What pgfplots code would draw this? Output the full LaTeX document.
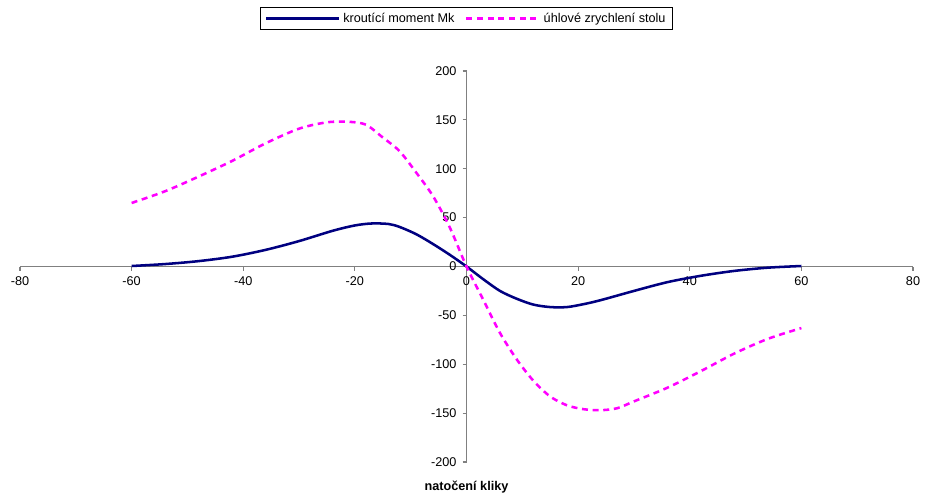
\documentclass[border=0pt]{standalone}
\usepackage{fontspec}
\setmainfont{Liberation Sans}
\usepackage{pgfplots}
\pgfplotsset{compat=1.18}
\definecolor{mknavy}{RGB}{0,0,128}
\definecolor{accmag}{RGB}{255,0,255}
\definecolor{axgray}{RGB}{128,128,128}
\begin{document}
\begin{tikzpicture}[x=1pt,y=1pt]
\path[use as bounding box] (-15,-26.25) rectangle (679.5,346.5);
\begin{axis}[
  at={(0,0)}, anchor=south west,
  scale only axis, width=669.75pt, height=293.25pt,
  axis lines=middle,
  axis line style={axgray, line width=0.8pt, -},
  xmin=-80, xmax=80, ymin=-200, ymax=200,
  xtick={-80,-60,...,80}, ytick={-200,-150,...,200},
  hide obscured x ticks=false, hide obscured y ticks=false,
  tick align=outside, major tick length=3pt,
  tick style={axgray, line width=0.8pt},
  tick label style={font=\fontsize{9.5}{11}\selectfont, text=black},
  /pgf/number format/assume math mode=true,
  x tick label style={yshift=-1pt},
  y tick label style={xshift=-1pt},
  xlabel={\textbf{natočení kliky}},
  xlabel style={at={(axis description cs:0.5,0)}, anchor=north, yshift=-11pt, font=\fontsize{9.5}{11}\selectfont},
  legend columns=2,
  legend style={at={(axis description cs:0.5,1)}, anchor=south, yshift=30.75pt, draw=black, line width=0.6pt, font=\fontsize{9.5}{11}\selectfont, inner xsep=3pt, inner ysep=2pt, /tikz/every even column/.append style={column sep=6pt}},
  legend image code/.code={\draw[#1] (0pt,0pt) -- (55pt,0pt);},
]
\addplot[mknavy, line width=1.9pt, smooth, tension=0.5] coordinates {
(-60,0.5) (-54,2.5) (-48,5.5) (-42,10) (-36,17) (-30,26) (-24,36.5) (-20,42) (-17,44) (-14,43.5) (-12,40.5) (-9,33) (-6,23) (-3,12) (0,0)
(3,-13) (6,-25) (9,-33) (12,-39) (15,-41.5) (18,-41.5) (21,-38.5) (24,-34.5) (30,-25) (36,-16) (42,-9.5) (48,-4.5) (54,-1.2) (60,0.5)
};
\addlegendentry{kroutící moment Mk}
\addplot[accmag, line width=1.9pt, smooth, tension=0.5, dash pattern=on 4.5pt off 3.5pt] coordinates {
(-60,65) (-54,77) (-48,92) (-42,108) (-36,126) (-30,141) (-25,147.5) (-21,148) (-18,145) (-15,132) (-12,118) (-9,96) (-6,72) (-3,40) (0,0)
(3,-34) (6,-68) (9,-95) (12,-117) (15,-133) (18,-142) (21,-146) (24,-147) (27,-145) (30,-138) (36,-124) (42,-107) (48,-89) (54,-74) (60,-63)
};
\addlegendentry{úhlové zrychlení stolu}
\end{axis}
\end{tikzpicture}
\end{document}
